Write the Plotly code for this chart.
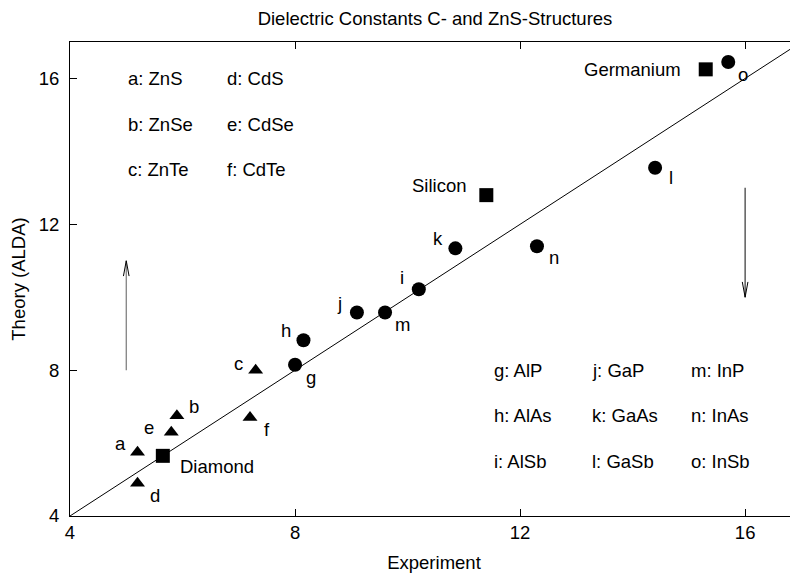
import plotly.graph_objects as go

# II-VI compounds (triangles)
tri_labels = ["a", "b", "c", "d", "e", "f"]
tri_exp = [5.2, 5.9, 7.3, 5.2, 5.8, 7.2]
tri_theory = [5.75, 6.75, 8.0, 4.9, 6.3, 6.7]

# III-V compounds (circles)
circ_labels = ["g", "h", "i", "j", "k", "l", "m", "n", "o"]
circ_exp = [8.0, 8.15, 10.2, 9.1, 10.85, 14.4, 9.6, 12.3, 15.7]
circ_theory = [8.15, 8.82, 10.22, 9.58, 11.34, 13.55, 9.58, 11.4, 16.45]

# group IV elements (squares)
elem_names = ["Diamond", "Silicon", "Germanium"]
elem_exp = [5.65, 11.4, 15.3]
elem_theory = [5.65, 12.8, 16.25]

# key texts
key_left = [["a: ZnS", "b: ZnSe", "c: ZnTe"], ["d: CdS", "e: CdSe", "f: CdTe"]]
key_right = [["g: AlP", "h: AlAs", "i: AlSb"],
             ["j: GaP", "k: GaAs", "l: GaSb"],
             ["m: InP", "n: InAs", "o: InSb"]]

# vertical arrows: x, from y, to y
arrows = [(5, 8, 11), (16, 13, 10)]

FONT = "Liberation Sans, Arial, sans-serif"
FS = 18.5

# label offsets in pixels (dx, dy)
offsets = {
    "a": (-17, 9), "b": (17, 9), "c": (-17, 7), "d": (17, -12), "e": (-22, 5),
    "f": (17, -12), "g": (16, -13), "h": (-17, 10), "i": (-17, 12), "j": (-17, 9),
    "k": (-17, 10), "l": (16, -10), "m": (17, -12), "n": (17, -11), "o": (15, -12),
}
elem_off = {"Diamond": (15, -11, "left"), "Silicon": (-17, 10, "right"),
            "Germanium": (-23, 0, "right")}

fig = go.Figure()

fig.add_trace(go.Scatter(x=[4, 17], y=[4, 17], mode="lines",
                         line=dict(color="black", width=1)))
fig.add_trace(go.Scatter(x=tri_exp, y=tri_theory, mode="markers",
                         marker=dict(symbol="triangle-up", size=13, color="black")))
fig.add_trace(go.Scatter(x=circ_exp, y=circ_theory, mode="markers",
                         marker=dict(symbol="circle", size=14, color="black")))
fig.add_trace(go.Scatter(x=elem_exp, y=elem_theory, mode="markers",
                         marker=dict(symbol="square", size=14, color="black")))

ann = []
for lab, x, y in zip(tri_labels + circ_labels, tri_exp + circ_exp, tri_theory + circ_theory):
    dx, dy = offsets[lab]
    ann.append(dict(x=x, y=y, text=lab, showarrow=False, xshift=dx, yshift=dy))
for name, x, y in zip(elem_names, elem_exp, elem_theory):
    dx, dy, anc = elem_off[name]
    ann.append(dict(x=x, y=y, text=name, showarrow=False, xshift=dx, yshift=dy, xanchor=anc))

for col, xk in zip(key_left, [5.0, 6.75]):
    for row, yk in zip(col, [16, 14.75, 13.5]):
        ann.append(dict(x=xk, y=yk, text=row, showarrow=False, xanchor="left"))
for col, xk in zip(key_right, [11.5, 13.25, 15.0]):
    for row, yk in zip(col, [8, 6.75, 5.5]):
        ann.append(dict(x=xk, y=yk, text=row, showarrow=False, xanchor="left"))

for a in ann:
    a.setdefault("font", dict(family=FONT, size=FS, color="black"))

# arrows drawn as shapes: stem plus a narrow open head
hw, hl = 0.05, 0.42  # head half-width (x units), head length (y units)
shapes = []
for (ax_, y0, y1), stem_col in zip(arrows, ["#777777", "#333333"]):
    sgn = 1 if y1 > y0 else -1
    shapes.append(dict(type="line", x0=ax_, x1=ax_, y0=y0, y1=y1, xref="x", yref="y",
                       line=dict(color=stem_col, width=1.2)))
    shapes.append(dict(type="path", xref="x", yref="y",
                       path=f"M{ax_ - hw},{y1 - sgn * hl} L{ax_},{y1} L{ax_ + hw},{y1 - sgn * hl}",
                       line=dict(color="black", width=1)))

axis_style = dict(showline=True, linecolor="black", linewidth=1, ticks="inside",
                  ticklen=7, tickcolor="black", showgrid=False, zeroline=False,
                  automargin=False,
                  tickfont=dict(family=FONT, size=FS, color="black"))

# page body adds an 8px margin, so the figure is a bit smaller than the window
fig.update_layout(
    width=790, height=568,
    margin=dict(l=62, r=0, t=34, b=60),
    paper_bgcolor="white", plot_bgcolor="white",
    showlegend=False,
    title=dict(text="Dielectric Constants C- and ZnS-Structures", x=0.5405, xanchor="center",
               y=0.9806, yanchor="middle", font=dict(family=FONT, size=FS, color="black")),
    xaxis=dict(range=[4, 16.94], tickvals=[4, 8, 12, 16], mirror="ticks",
               ticklabelstandoff=0,
               title=dict(text="Experiment", standoff=13,
                          font=dict(family=FONT, size=FS, color="black")),
               **axis_style),
    yaxis=dict(range=[4, 17], tickvals=[4, 8, 12, 16], ticklabelstandoff=6,
               title=dict(text="Theory (ALDA)", standoff=18,
                          font=dict(family=FONT, size=FS, color="black")),
               **axis_style),
    annotations=ann,
    shapes=shapes,
)

fig.write_html("out.html")
